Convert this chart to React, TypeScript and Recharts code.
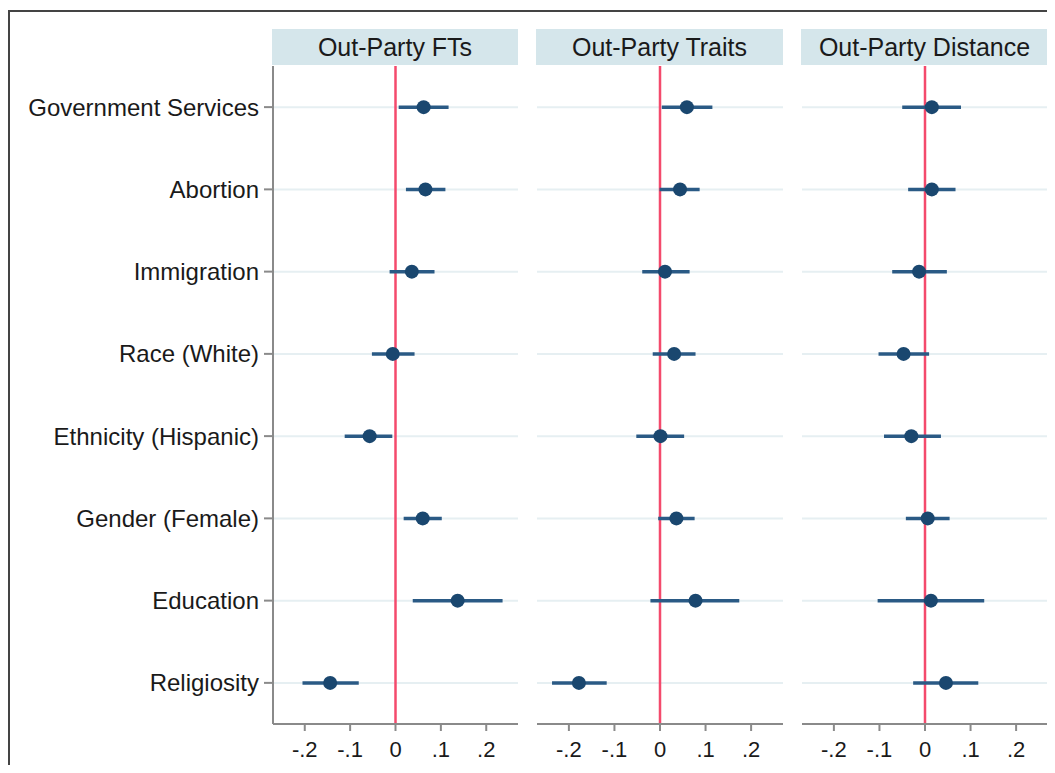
import React from "react";
import {
  ComposedChart,
  Scatter,
  XAxis,
  YAxis,
  ErrorBar,
  ReferenceLine,
} from "recharts";

const categories = [
  "Government Services",
  "Abortion",
  "Immigration",
  "Race (White)",
  "Ethnicity (Hispanic)",
  "Gender (Female)",
  "Education",
  "Religiosity",
];

const panelTitles = ["Out-Party FTs", "Out-Party Traits", "Out-Party Distance"];

const ftsEst = [0.062, 0.066, 0.036, -0.006, -0.057, 0.06, 0.137, -0.144];
const ftsLow = [0.007, 0.023, -0.013, -0.052, -0.112, 0.018, 0.038, -0.205];
const ftsHigh = [0.117, 0.11, 0.086, 0.042, -0.007, 0.102, 0.236, -0.081];

const traitsEst = [0.059, 0.044, 0.011, 0.031, 0.001, 0.036, 0.078, -0.178];
const traitsLow = [0.004, -0.001, -0.039, -0.016, -0.052, -0.004, -0.021, -0.237];
const traitsHigh = [0.115, 0.087, 0.065, 0.078, 0.053, 0.076, 0.174, -0.117];

const distEst = [0.015, 0.015, -0.013, -0.047, -0.03, 0.006, 0.013, 0.046];
const distLow = [-0.05, -0.037, -0.072, -0.102, -0.09, -0.042, -0.104, -0.026];
const distHigh = [0.079, 0.067, 0.048, 0.009, 0.035, 0.054, 0.13, 0.117];

const xTicks = [-0.2, -0.1, 0, 0.1, 0.2];
const xTickLabels = ["-.2", "-.1", "0", ".1", ".2"];

const FONT = "'Liberation Sans', Arial, sans-serif";
const NAVY = "#1a476f";
const CI = "#2a5a85";
const GRID = "#e6eff2";
const RED = "#f44a6c";
const AXIS = "#8a8a8a";
const TEXT = "#1a1a1a";

function buildRows(est: number[], low: number[], high: number[]) {
  return est.map((e, i) => ({
    y: i + 1,
    x: e,
    err: [e - low[i], high[i] - e],
  }));
}

const panels = [
  buildRows(ftsEst, ftsLow, ftsHigh),
  buildRows(traitsEst, traitsLow, traitsHigh),
  buildRows(distEst, distLow, distHigh),
];

const Dot = (props: any) => {
  const { cx, cy } = props;
  if (cx == null || cy == null) return null;
  return <circle cx={cx} cy={cy} r={7} fill={NAVY} />;
};

const yTicks = categories.map((_, i) => i + 1);

function Panel({
  data,
  showY,
  left,
  width,
  title,
}: {
  data: any[];
  showY: boolean;
  left: number;
  width: number;
  title: string;
}) {
  const yw = showY ? 273 : 0;
  const chartLeft = showY ? 0 : left;
  const chartWidth = showY ? left + width : width;
  return (
    <>
      <div
        style={{
          position: "absolute",
          left: left - 1,
          top: 29,
          width: width + 1,
          height: 36,
          background: "#d5e6eb",
          fontFamily: FONT,
          fontSize: 25,
          color: TEXT,
          display: "flex",
          alignItems: "center",
          justifyContent: "center",
          whiteSpace: "nowrap",
        }}
      >
        {title}
      </div>
      <div style={{ position: "absolute", left: chartLeft, top: 0 }}>
        <ComposedChart
          width={chartWidth}
          height={773}
          data={data}
          margin={{ top: 66, right: 0, bottom: 0, left: 0 }}
        >
          <XAxis
            type="number"
            dataKey="x"
            domain={[-0.27, 0.27]}
            allowDataOverflow
            ticks={xTicks}
            tickFormatter={(v: number) => xTickLabels[xTicks.indexOf(v)] ?? String(v)}
            height={49}
            stroke={AXIS}
            strokeWidth={2}
            tickSize={7}
            tickMargin={10}
            tick={{ fill: TEXT, fontSize: 22, fontFamily: FONT }}
          />
          <YAxis
            type="number"
            dataKey="y"
            domain={[0.5, 8.5]}
            reversed
            ticks={yTicks}
            interval={0}
            hide={!showY}
            width={yw}
            tickFormatter={(v: number) => categories[v - 1] ?? ""}
            stroke={AXIS}
            strokeWidth={2}
            tickSize={9}
            tickMargin={5}
            tick={{ fill: TEXT, fontSize: 24, fontFamily: FONT }}
          />
          {yTicks.map((t) => (
            <ReferenceLine key={t} y={t} stroke={GRID} strokeWidth={2} />
          ))}
          <ReferenceLine x={0} stroke={RED} strokeWidth={2.5} />
          <Scatter dataKey="x" data={data} shape={Dot} isAnimationActive={false}>
            <ErrorBar
              dataKey="err"
              direction="x"
              width={0}
              stroke={CI}
              strokeWidth={3.5}
              isAnimationActive={false}
            />
          </Scatter>
        </ComposedChart>
      </div>
    </>
  );
}

export default function App() {
  return (
    <div
      style={{
        position: "relative",
        width: 1055,
        height: 773,
        margin: -8,
        background: "#fff",
        overflow: "hidden",
      }}
    >
      <div
        style={{
          position: "absolute",
          left: 8,
          top: 10,
          width: 1060,
          height: 780,
          borderLeft: "2px solid #444",
          borderTop: "2px solid #444",
        }}
      />
      <Panel data={panels[0]} showY left={273} width={245} title={panelTitles[0]} />
      <Panel data={panels[1]} showY={false} left={537} width={246} title={panelTitles[1]} />
      <Panel data={panels[2]} showY={false} left={802} width={246} title={panelTitles[2]} />
    </div>
  );
}
